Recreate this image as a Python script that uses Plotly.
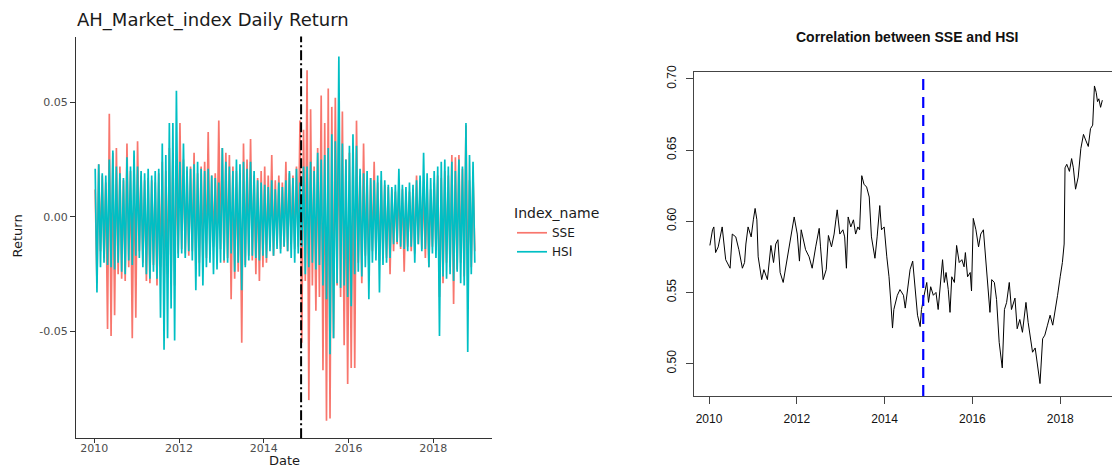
import numpy as np
import plotly.graph_objects as go

# ---------------- Left panel data: half-month extreme daily returns (alternating high / low) ----------------
hsi_2010 = [0.021, -0.033, 0.023, -0.022, 0.019, -0.020, 0.018, -0.021, 0.025, -0.022, 0.029, -0.023,
            0.022, -0.020, 0.019, -0.024, 0.017, -0.025, 0.026, -0.019, 0.022, -0.021, 0.029, -0.017]
hsi_2011 = [0.022, -0.018, 0.020, -0.022, 0.019, -0.025, 0.021, -0.027, 0.018, -0.024, 0.020, -0.027,
            0.021, -0.044, 0.032, -0.058, 0.027, -0.053, 0.041, -0.040, 0.041, -0.054, 0.055, -0.018]
hsi_2012 = [0.024, -0.016, 0.032, -0.018, 0.022, -0.015, 0.021, -0.019, 0.023, -0.032, 0.024, -0.026,
            0.021, -0.030, 0.020, -0.022, 0.021, -0.020, 0.018, -0.025, 0.017, -0.023, 0.015, -0.020]
hsi_2013 = [0.030, -0.019, 0.024, -0.020, 0.022, -0.016, 0.020, -0.024, 0.025, -0.020, 0.023, -0.032,
            0.024, -0.022, 0.021, -0.019, 0.024, -0.017, 0.020, -0.018, 0.016, -0.019, 0.015, -0.017]
hsi_2014 = [0.014, -0.018, 0.013, -0.015, 0.016, -0.017, 0.012, -0.014, 0.015, -0.016, 0.013, -0.013,
            0.016, -0.015, 0.020, -0.018, 0.017, -0.020, 0.021, -0.016, 0.015, -0.013, 0.022, -0.025]
hsi_2015 = [0.022, -0.022, 0.024, -0.020, 0.020, -0.023, 0.028, -0.021, 0.025, -0.030, 0.027, -0.036,
            0.030, -0.060, 0.036, -0.053, 0.033, -0.029, 0.070, -0.031, 0.032, -0.030, 0.025, -0.035]
hsi_2016 = [0.031, -0.039, 0.036, -0.025, 0.031, -0.024, 0.021, -0.026, 0.019, -0.022, 0.020, -0.036,
            0.017, -0.020, 0.016, -0.019, 0.018, -0.033, 0.020, -0.021, 0.016, -0.020, 0.014, -0.018]
hsi_2017 = [0.013, -0.012, 0.014, -0.011, 0.021, -0.013, 0.014, -0.014, 0.013, -0.015, 0.015, -0.013,
            0.014, -0.020, 0.016, -0.012, 0.018, -0.015, 0.028, -0.014, 0.019, -0.022, 0.017, -0.016]
hsi_2018 = [0.020, -0.018, 0.022, -0.052, 0.024, -0.026, 0.025, -0.027, 0.022, -0.025, 0.024, -0.028,
            0.020, -0.024, 0.025, -0.029, 0.022, -0.030, 0.041, -0.059, 0.027, -0.025, 0.024, -0.020]

sse_2010 = [0.012, -0.029, 0.023, -0.015, 0.018, -0.018, 0.015, -0.049, 0.045, -0.052, 0.028, -0.043,
            0.030, -0.025, 0.022, -0.027, 0.016, -0.028, 0.032, -0.022, 0.020, -0.053, 0.025, -0.044]
sse_2011 = [0.033, -0.015, 0.018, -0.020, 0.016, -0.028, 0.017, -0.029, 0.016, -0.021, 0.015, -0.030,
            0.019, -0.022, 0.024, -0.033, 0.020, -0.025, 0.030, -0.026, 0.027, -0.030, 0.022, -0.016]
sse_2012 = [0.041, -0.014, 0.025, -0.016, 0.020, -0.017, 0.022, -0.015, 0.028, -0.022, 0.019, -0.020,
            0.022, -0.019, 0.024, -0.018, 0.037, -0.016, 0.018, -0.013, 0.019, -0.017, 0.042, -0.014]
sse_2013 = [0.030, -0.020, 0.028, -0.018, 0.027, -0.036, 0.022, -0.027, 0.020, -0.024, 0.019, -0.055,
            0.032, -0.021, 0.025, -0.017, 0.034, -0.019, 0.018, -0.025, 0.017, -0.028, 0.020, -0.022]
sse_2014 = [0.022, -0.020, 0.018, -0.013, 0.027, -0.017, 0.016, -0.012, 0.018, -0.014, 0.015, -0.013,
            0.024, -0.015, 0.019, -0.012, 0.018, -0.014, 0.022, -0.013, 0.042, -0.055, 0.038, -0.028]
sse_2015 = [0.064, -0.080, 0.047, -0.030, 0.022, -0.041, 0.030, -0.035, 0.053, -0.067, 0.041, -0.089,
            0.056, -0.088, 0.048, -0.053, 0.052, -0.030, 0.040, -0.035, 0.046, -0.056, 0.025, -0.073]
sse_2016 = [0.028, -0.066, 0.030, -0.066, 0.042, -0.020, 0.018, -0.029, 0.032, -0.017, 0.016, -0.022,
            0.017, -0.015, 0.024, -0.016, 0.015, -0.019, 0.016, -0.017, 0.014, -0.018, 0.013, -0.025]
sse_2017 = [0.012, -0.015, 0.011, -0.012, 0.013, -0.014, 0.012, -0.024, 0.010, -0.013, 0.011, -0.015,
            0.012, -0.016, 0.018, -0.012, 0.012, -0.014, 0.013, -0.018, 0.014, -0.022, 0.012, -0.013]
sse_2018 = [0.015, -0.014, 0.018, -0.035, 0.017, -0.029, 0.020, -0.020, 0.018, -0.022, 0.027, -0.038,
            0.026, -0.023, 0.027, -0.020, 0.021, -0.026, 0.040, -0.028, 0.016, -0.022, 0.018, -0.015]

hsi_returns = (hsi_2010 + hsi_2011 + hsi_2012 + hsi_2013 + hsi_2014 +
               hsi_2015 + hsi_2016 + hsi_2017 + hsi_2018)
sse_returns = (sse_2010 + sse_2011 + sse_2012 + sse_2013 + sse_2014 +
               sse_2015 + sse_2016 + sse_2017 + sse_2018)
period_index = np.arange(len(hsi_returns))          # half-month periods from Jan 2010
period_year = 2010 + (period_index + 0.5) / 24

# Shanghai-Hong Kong Stock Connect launch (Nov 2014)
connect_year = 2014.88

# ---------------- Right panel data: rolling correlation SSE vs HSI ----------------
corr_year = [
    2010.02, 2010.08, 2010.11, 2010.15, 2010.21, 2010.30, 2010.38, 2010.48, 2010.53, 2010.61,
    2010.68, 2010.76, 2010.81, 2010.84, 2010.89, 2010.96, 2011.01, 2011.05, 2011.09, 2011.12,
    2011.20, 2011.25, 2011.33, 2011.41, 2011.47, 2011.52, 2011.57, 2011.62, 2011.69, 2011.77,
    2011.86, 2011.94, 2012.01, 2012.06, 2012.10, 2012.20, 2012.28, 2012.35, 2012.43, 2012.51,
    2012.54, 2012.60, 2012.67, 2012.72, 2012.79, 2012.85, 2012.89, 2012.92, 2012.98, 2013.05,
    2013.09, 2013.13, 2013.17, 2013.23, 2013.29, 2013.34, 2013.39, 2013.43, 2013.48, 2013.53,
    2013.59, 2013.65, 2013.70, 2013.74, 2013.78, 2013.83, 2013.89, 2013.93, 2013.99, 2014.05,
    2014.10, 2014.14, 2014.18, 2014.21, 2014.29, 2014.35, 2014.43, 2014.47, 2014.52, 2014.58,
    2014.64, 2014.69, 2014.75, 2014.81, 2014.84, 2014.90, 2014.96, 2015.00, 2015.05, 2015.11,
    2015.17, 2015.22, 2015.28, 2015.32, 2015.36, 2015.40, 2015.45, 2015.49, 2015.53, 2015.59,
    2015.64, 2015.70, 2015.76, 2015.81, 2015.84, 2015.89, 2015.95, 2015.98, 2016.02, 2016.08,
    2016.14, 2016.19, 2016.25, 2016.29, 2016.33, 2016.36, 2016.40, 2016.44, 2016.50, 2016.55,
    2016.61, 2016.68, 2016.73, 2016.78, 2016.84, 2016.89, 2016.97, 2017.02, 2017.08, 2017.14,
    2017.18, 2017.22, 2017.27, 2017.33, 2017.37, 2017.43, 2017.48, 2017.54, 2017.60, 2017.65,
    2017.71, 2017.77, 2017.83, 2017.88, 2017.94, 2018.00, 2018.05, 2018.09, 2018.11, 2018.15,
    2018.21, 2018.26, 2018.30, 2018.35, 2018.41, 2018.47, 2018.53, 2018.58, 2018.64, 2018.69,
    2018.74, 2018.78, 2018.82, 2018.85, 2018.88, 2018.92, 2018.96]
corr_value = [
    0.583, 0.594, 0.596, 0.578, 0.582, 0.596, 0.573, 0.567, 0.591, 0.589,
    0.580, 0.567, 0.571, 0.584, 0.596, 0.589, 0.601, 0.609, 0.601, 0.575,
    0.559, 0.566, 0.559, 0.583, 0.571, 0.584, 0.587, 0.564, 0.557, 0.571,
    0.589, 0.603, 0.591, 0.572, 0.594, 0.580, 0.575, 0.567, 0.582, 0.595,
    0.582, 0.559, 0.566, 0.590, 0.582, 0.591, 0.601, 0.608, 0.591, 0.594,
    0.589, 0.567, 0.603, 0.596, 0.601, 0.591, 0.596, 0.594, 0.632, 0.626,
    0.624, 0.617, 0.589, 0.580, 0.574, 0.589, 0.611, 0.594, 0.596, 0.575,
    0.561, 0.544, 0.525, 0.538, 0.548, 0.552, 0.548, 0.539, 0.552, 0.566,
    0.572, 0.557, 0.534, 0.526, 0.538, 0.548, 0.557, 0.543, 0.554, 0.548,
    0.550, 0.538, 0.561, 0.573, 0.557, 0.564, 0.552, 0.536, 0.561, 0.557,
    0.583, 0.571, 0.573, 0.568, 0.578, 0.561, 0.564, 0.551, 0.602, 0.594,
    0.582, 0.591, 0.594, 0.580, 0.566, 0.552, 0.536, 0.559, 0.557, 0.545,
    0.515, 0.497, 0.538, 0.543, 0.557, 0.538, 0.546, 0.5245, 0.531, 0.522,
    0.534, 0.543, 0.529, 0.5175, 0.508, 0.511, 0.501, 0.486, 0.5175, 0.520,
    0.527, 0.534, 0.527, 0.536, 0.548, 0.561, 0.571, 0.584, 0.6375, 0.640,
    0.635, 0.644, 0.6375, 0.6225, 0.631, 0.651, 0.661, 0.657, 0.6525, 0.665,
    0.6675, 0.695, 0.6905, 0.684, 0.686, 0.680, 0.685]

year_ticks = [2010, 2012, 2014, 2016, 2018]
ret_ticks = [-0.05, 0.0, 0.05]
ret_tick_text = ["-0.05", "0.00", "0.05"]
corr_ticks = [0.50, 0.55, 0.60, 0.65, 0.70]
corr_tick_text = ["0.50", "0.55", "0.60", "0.65", "0.70"]

W, H = 1112, 468
LFONT = "DejaVu Sans"
RFONT = "Liberation Sans, Arial, sans-serif"

fig = go.Figure()
fig.add_trace(go.Scatter(x=period_year, y=sse_returns, mode="lines", name="SSE",
                         line=dict(color="#F8766D", width=1.7), xaxis="x", yaxis="y"))
fig.add_trace(go.Scatter(x=period_year, y=hsi_returns, mode="lines", name="HSI",
                         line=dict(color="#00BFC4", width=1.7), xaxis="x", yaxis="y"))
fig.add_trace(go.Scatter(x=corr_year, y=corr_value, mode="lines", showlegend=False,
                         line=dict(color="black", width=1), xaxis="x2", yaxis="y2"))

fig.update_layout(
    width=W, height=H,
    margin=dict(l=0, r=0, t=0, b=0),
    paper_bgcolor="white", plot_bgcolor="white",
    xaxis=dict(domain=[76 / W, 492 / W], range=[2009.568, 2019.385], anchor="y",
               tickvals=year_ticks, ticktext=[str(t) for t in year_ticks],
               ticks="outside", ticklen=4, tickcolor="#333333", tickwidth=1,
               showline=True, linecolor="#333333", linewidth=1.2,
               showgrid=False, zeroline=False, ticklabelstandoff=-4,
               tickfont=dict(family=LFONT, size=11, color="#4D4D4D")),
    yaxis=dict(domain=[1 - 437.7 / H, 1 - 30 / H], range=[-0.0966, 0.0787], anchor="x",
               tickvals=ret_ticks, ticktext=ret_tick_text,
               ticks="outside", ticklen=5, tickcolor="#333333", tickwidth=1,
               showline=True, linecolor="#333333", linewidth=1.2,
               showgrid=False, zeroline=False,
               tickfont=dict(family=LFONT, size=11, color="#4D4D4D")),
    xaxis2=dict(domain=[694 / W, 1.0], range=[2009.658, 2019.18], anchor="y2",
                tickvals=year_ticks, ticktext=[str(t) for t in year_ticks],
                ticks="outside", ticklen=7, tickcolor="#444444", tickwidth=1,
                showline=True, mirror=True, linecolor="#444444", linewidth=1,
                showgrid=False, zeroline=False, ticklabelstandoff=5,
                tickfont=dict(family=RFONT, size=12, color="#111111")),
    yaxis2=dict(domain=[1 - 395 / H, 1 - 66 / H], range=[0.4772, 0.7048], anchor="x2",
                tickvals=corr_ticks, ticktext=corr_tick_text, tickangle=-90,
                ticks="outside", ticklen=7, tickcolor="#444444", tickwidth=1,
                showline=True, linecolor="#444444", linewidth=1,
                showgrid=False, zeroline=False, ticklabelstandoff=5,
                tickfont=dict(family=RFONT, size=12, color="#111111")),
    legend=dict(x=512 / W, y=1 - 196 / H, xanchor="left", yanchor="top",
                title=dict(text="Index_name", font=dict(family=LFONT, size=14, color="#1a1a1a")),
                font=dict(family=LFONT, size=12, color="#1a1a1a"),
                bgcolor="rgba(0,0,0,0)", itemwidth=30, tracegroupgap=0),
    shapes=[
        dict(type="line", xref="x", yref="y domain", x0=connect_year, x1=connect_year,
             y0=0, y1=1, line=dict(color="black", width=2, dash="10px,3px,2px,3px")),
        dict(type="line", xref="x2", yref="y2 domain", x0=connect_year, x1=connect_year,
             y0=0, y1=1, line=dict(color="#0000FF", width=2.2, dash="11px,7px")),
    ],
    annotations=[
        dict(text="AH_Market_index Daily Return", x=75 / W, y=1 - 13 / H,
             xref="paper", yref="paper", xanchor="left", yanchor="middle", showarrow=False,
             font=dict(family=LFONT, size=18, color="#1a1a1a")),
        dict(text="Return", x=18 / W, y=1 - 233 / H, textangle=-90,
             xref="paper", yref="paper", xanchor="center", yanchor="middle", showarrow=False,
             font=dict(family=LFONT, size=13, color="#1a1a1a")),
        dict(text="Date", x=284 / W, y=1 - 460 / H,
             xref="paper", yref="paper", xanchor="center", yanchor="middle", showarrow=False,
             font=dict(family=LFONT, size=13, color="#1a1a1a")),
        dict(text="<b>Correlation between SSE and HSI</b>", x=907.5 / W, y=1 - 30 / H,
             xref="paper", yref="paper", xanchor="center", yanchor="middle", showarrow=False,
             font=dict(family=RFONT, size=14, color="#111111")),
    ],
)

fig.write_html("out.html")
